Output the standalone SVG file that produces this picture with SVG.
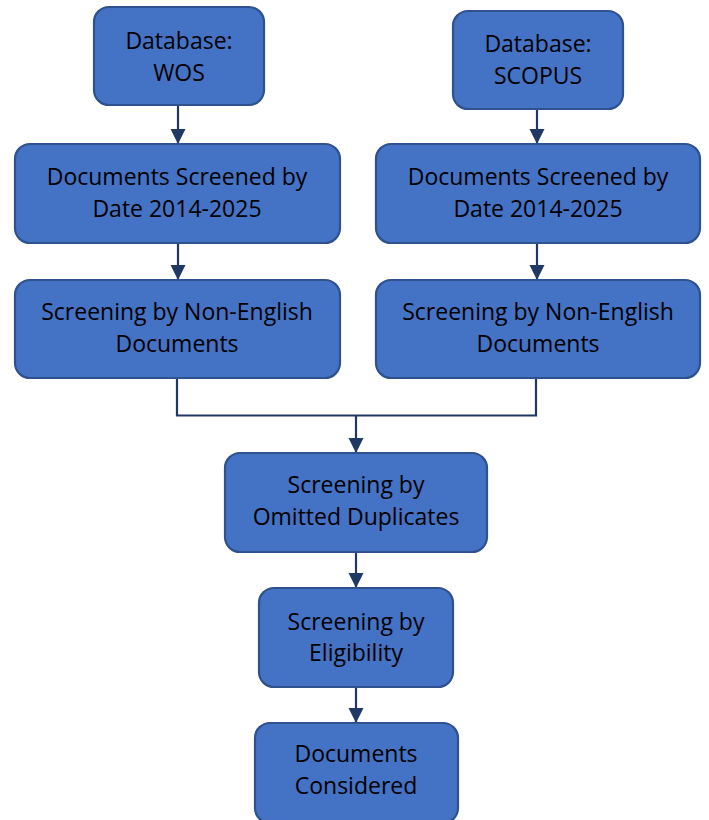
<svg xmlns="http://www.w3.org/2000/svg" width="709" height="820" viewBox="0 0 709 820">
<defs>
<style>
.box{fill:#4472C4;stroke:#2F528F;stroke-width:2.2}
.t{font-family:"Open Sans","Liberation Sans",sans-serif;font-size:23px;fill:#000;text-anchor:middle}
.c{fill:none;stroke:#203864;stroke-width:2.2}
</style>
<marker id="ah" viewBox="0 0 10 10" refX="10" refY="5" markerWidth="7" markerHeight="7" markerUnits="strokeWidth" orient="auto">
<path d="M0,0 L10,5 L0,10 Z" fill="#203864"/>
</marker>
</defs>
<rect width="709" height="820" fill="#fff"/>
<g id="connectors">
<line class="c" x1="178" y1="105" x2="178" y2="144" marker-end="url(#ah)"/>
<line class="c" x1="537" y1="109" x2="537" y2="144" marker-end="url(#ah)"/>
<line class="c" x1="178" y1="243" x2="178" y2="280" marker-end="url(#ah)"/>
<line class="c" x1="537" y1="243" x2="537" y2="280" marker-end="url(#ah)"/>
<polyline class="c" points="177,378 177,415.5 536,415.5 536,378"/>
<line class="c" x1="356" y1="415.5" x2="356" y2="453" marker-end="url(#ah)"/>
<line class="c" x1="356" y1="552" x2="356" y2="588" marker-end="url(#ah)"/>
<line class="c" x1="356" y1="687" x2="356" y2="723" marker-end="url(#ah)"/>
</g>
<g id="wos">
<rect class="box" x="94" y="7" width="170" height="98" rx="15"/>
<text class="t" x="179" y="49">Database:</text>
<text class="t" x="179" y="81">WOS</text>
</g>
<g id="scopus">
<rect class="box" x="453" y="11" width="170" height="98" rx="15"/>
<text class="t" x="538" y="52">Database:</text>
<text class="t" x="538" y="84">SCOPUS</text>
</g>
<g id="date-left">
<rect class="box" x="15" y="144" width="325" height="99" rx="15"/>
<text class="t" x="177" y="185">Documents Screened by</text>
<text class="t" x="177" y="217">Date 2014-2025</text>
</g>
<g id="date-right">
<rect class="box" x="376" y="144" width="324" height="99" rx="15"/>
<text class="t" x="538" y="185">Documents Screened by</text>
<text class="t" x="538" y="217">Date 2014-2025</text>
</g>
<g id="lang-left">
<rect class="box" x="15" y="280" width="325" height="98" rx="15"/>
<text class="t" x="177" y="320">Screening by Non-English</text>
<text class="t" x="177" y="352">Documents</text>
</g>
<g id="lang-right">
<rect class="box" x="376" y="280" width="324" height="98" rx="15"/>
<text class="t" x="538" y="320">Screening by Non-English</text>
<text class="t" x="538" y="352">Documents</text>
</g>
<g id="duplicates">
<rect class="box" x="225" y="453" width="262" height="99" rx="15"/>
<text class="t" x="356" y="493">Screening by</text>
<text class="t" x="356" y="525">Omitted Duplicates</text>
</g>
<g id="eligibility">
<rect class="box" x="259" y="588" width="194" height="99" rx="15"/>
<text class="t" x="356" y="630">Screening by</text>
<text class="t" x="356" y="661">Eligibility</text>
</g>
<g id="considered">
<rect class="box" x="255" y="723" width="203" height="100" rx="15"/>
<text class="t" x="356" y="762">Documents</text>
<text class="t" x="356" y="794">Considered</text>
</g>
</svg>
